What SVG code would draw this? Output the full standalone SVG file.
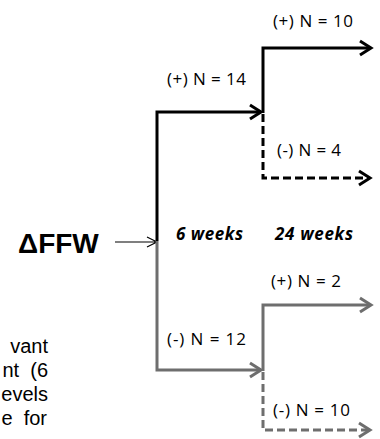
<svg xmlns="http://www.w3.org/2000/svg" width="380" height="439" viewBox="0 0 380 439">
<style>
.lbl{font-family:"Open Sans","Liberation Sans",sans-serif;font-size:17px;fill:#000}
.wk{font-family:"Open Sans","Liberation Sans",sans-serif;font-size:17px;font-weight:bold;font-style:italic;fill:#000}
.body{font-family:"Liberation Sans",Arial,sans-serif;font-size:20px;fill:#000;white-space:pre}
.blk{fill:none;stroke:#000;stroke-width:3}
.gry{fill:none;stroke:#6e6e6e;stroke-width:3}
.dash{stroke-dasharray:8 4}
</style>
<rect width="380" height="439" fill="#fff"/>
<g id="left-text">
<text class="body" x="48" y="353" text-anchor="end">vant</text>
<text class="body" x="48" y="377" text-anchor="end">nt  (6</text>
<text class="body" x="48" y="401" text-anchor="end">evels</text>
<text class="body" x="47" y="425" text-anchor="end">e  for</text>
</g>
<g id="ffw">
<text x="18" y="253" font-family="Liberation Sans,Arial,sans-serif" font-weight="bold" font-size="28">ΔFFW</text>
</g>
<g id="weeks">
<text class="wk" x="176" y="240" textLength="67">6 weeks</text>
<text class="wk" x="275" y="240" textLength="78">24 weeks</text>
</g>
<g id="labels">
<text class="lbl" x="273" y="27" textLength="80">(+) N = 10</text>
<text class="lbl" x="167" y="85" textLength="79">(+) N = 14</text>
<text class="lbl" x="277" y="156" textLength="64">(-) N = 4</text>
<text class="lbl" x="271" y="287" textLength="70">(+) N = 2</text>
<text class="lbl" x="167" y="345" textLength="79">(-) N = 12</text>
<text class="lbl" x="273" y="416" textLength="77">(-) N = 10</text>
</g>
<g id="connectors">
<path d="M115,242 H156 M147,237 L157,242 L147,247" fill="none" stroke="#000" stroke-width="1.2"/>
<path class="blk" d="M157,241 V112 H261"/>
<path class="blk" d="M250,105 L261,112 L250,119"/>
<path class="blk" d="M263,113 V48 H370"/>
<path class="blk" d="M360,41 L371,48 L360,55"/>
<path class="blk dash" d="M263,114 V178 H368"/>
<path class="blk" d="M359,171 L370,178 L359,185"/>
<path class="gry" d="M157,241 V370 H261"/>
<path class="gry" d="M250,363 L261,370 L250,377"/>
<path class="gry" d="M263,371 V305 H370"/>
<path class="gry" d="M360,298 L371,305 L360,312"/>
<path class="gry dash" d="M263,372 V430 H368"/>
<path class="gry" d="M359,423 L370,430 L359,437"/>
</g>
</svg>
